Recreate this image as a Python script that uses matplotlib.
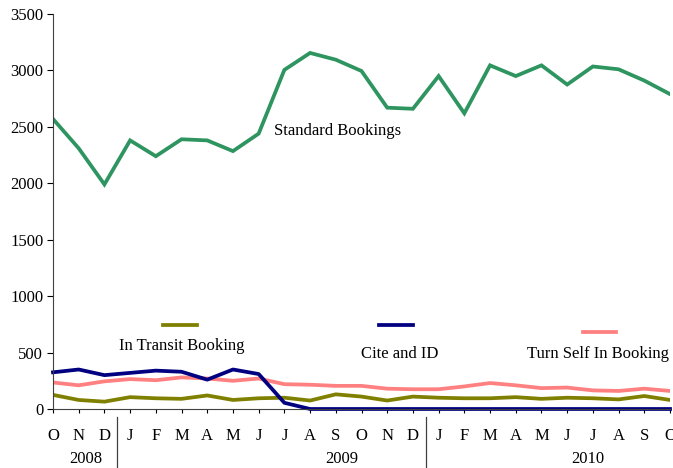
import matplotlib.pyplot as plt
import matplotlib.transforms as mtransforms

plt.rcParams['font.family'] = ['Liberation Serif', 'DejaVu Serif']

months = ['O', 'N', 'D', 'J', 'F', 'M', 'A', 'M', 'J', 'J', 'A', 'S', 'O', 'N', 'D',
          'J', 'F', 'M', 'A', 'M', 'J', 'J', 'A', 'S', 'O']
years = ['2008', '2009', '2010']
year_pos = [1.28, 11.25, 20.8]
year_breaks = [2.5, 14.5]

standard = [2570, 2310, 1990, 2380, 2240, 2390, 2380, 2285, 2440, 3005, 3155, 3095, 2995,
            2670, 2660, 2950, 2620, 3045, 2950, 3045, 2875, 3035, 3010, 2910, 2790]
in_transit = [125, 80, 65, 105, 95, 90, 120, 80, 95, 100, 75, 130, 110,
              75, 110, 100, 95, 95, 105, 90, 100, 95, 85, 115, 80]
cite_id = [325, 350, 300, 320, 340, 330, 260, 350, 310, 55, 0, 0, 0,
           0, 0, 0, 0, 0, 0, 0, 0, 0, 0, 0, 0]
turn_self = [235, 210, 245, 265, 255, 280, 270, 250, 270, 220, 215, 205, 205,
             180, 175, 175, 200, 230, 210, 185, 190, 165, 160, 180, 160]

x = list(range(len(months)))

fig = plt.figure(figsize=(6.73, 4.68), dpi=100)
ax = fig.add_axes([53 / 673, 59 / 468, 617 / 673, 395 / 468])

ax.plot(x, standard, color='#2E9460', lw=2.7, solid_joinstyle='miter')
ax.plot(x, turn_self, color='#FF8080', lw=2.7)
ax.plot(x, in_transit, color='#808000', lw=2.7)
ax.plot(x, cite_id, color='#000080', lw=2.7, clip_on=False)

ax.set_xlim(0, 24)
ax.set_ylim(0, 3500)
ax.set_yticks(range(0, 3501, 500))
ax.set_xticks(x)
ax.set_xticklabels(months)
ax.tick_params(axis='y', direction='out', length=4, labelsize=12, pad=3)
ax.tick_params(axis='x', direction='out', length=3, labelsize=12, pad=11)
for s in ['top', 'right']:
    ax.spines[s].set_visible(False)
ax.spines['left'].set_color('#404040')
ax.spines['bottom'].set_color('#404040')

# year labels and separators below the axis
trans = mtransforms.blended_transform_factory(ax.transData, fig.transFigure)
for yr, px in zip(years, year_pos):
    ax.text(px, 9 / 468, yr, transform=trans, ha='center', va='center', fontsize=12)
for b in year_breaks:
    ax.plot([b, b], [0, 51 / 468], transform=trans, color='#404040', lw=0.9, clip_on=False)

# series labels with short line keys
ax.text(8.6, 2465, 'Standard Bookings', fontsize=12, va='center', ha='left')
ax.plot([4.27, 5.6], [740, 740], color='#808000', lw=2.7)
ax.text(5.0, 560, 'In Transit Booking', fontsize=12, ha='center', va='center')
ax.plot([12.7, 14.0], [740, 740], color='#000080', lw=2.7)
ax.text(13.5, 490, 'Cite and ID', fontsize=12, ha='center', va='center')
ax.plot([20.6, 21.9], [680, 680], color='#FF8080', lw=2.7)
ax.text(21.2, 490, 'Turn Self In Booking', fontsize=12, ha='center', va='center')

fig.savefig('out.png', dpi=100)
